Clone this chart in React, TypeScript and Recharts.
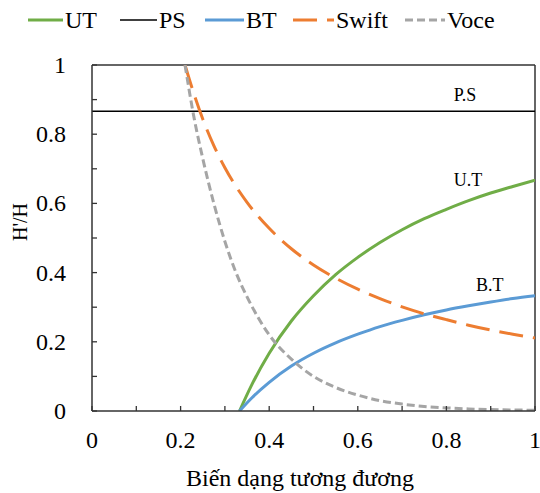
import { LineChart, Line, XAxis, YAxis, ReferenceLine, ReferenceDot } from "recharts";

const utX = [0.333, 0.36, 0.4, 0.45, 0.5, 0.55, 0.6, 0.65, 0.7, 0.75, 0.8, 0.85, 0.9, 0.95, 1.0];
const utY = [0, 0.074, 0.167, 0.26, 0.333, 0.394, 0.444, 0.487, 0.524, 0.556, 0.583, 0.608, 0.63, 0.649, 0.667];
const btY = [0, 0.037, 0.083, 0.13, 0.167, 0.197, 0.222, 0.244, 0.262, 0.278, 0.292, 0.304, 0.315, 0.325, 0.333];

const swiftX = [0.21, 0.23, 0.25, 0.275, 0.3, 0.35, 0.4, 0.45, 0.5, 0.55, 0.6, 0.65, 0.7, 0.75, 0.8, 0.85, 0.9, 0.95, 1.0];
const swiftY = [1.0, 0.917, 0.844, 0.767, 0.703, 0.603, 0.528, 0.469, 0.422, 0.384, 0.352, 0.325, 0.301, 0.281, 0.264, 0.248, 0.234, 0.222, 0.211];

const voceX = [0.21, 0.23, 0.25, 0.275, 0.3, 0.325, 0.35, 0.375, 0.4, 0.45, 0.5, 0.55, 0.6, 0.65, 0.7, 0.75, 0.8, 0.85, 0.9, 0.95, 1.0];
const voceY = [1.0, 0.85, 0.73, 0.6, 0.49, 0.4, 0.33, 0.27, 0.22, 0.15, 0.1, 0.068, 0.046, 0.03, 0.02, 0.013, 0.009, 0.006, 0.004, 0.003, 0.002];

const psX = [0, 1];
const psY = [0.866, 0.866];

const ticks = [0, 0.1, 0.2, 0.3, 0.4, 0.5, 0.6, 0.7, 0.8, 0.9, 1];
const majorTicks = [0, 0.2, 0.4, 0.6, 0.8, 1];

const notes = [
    { x: 0.842, y: 0.913, text: "P.S" },
    { x: 0.849, y: 0.668, text: "U.T" },
    { x: 0.898, y: 0.364, text: "B.T" },
];

const series = [
    { name: "UT", color: "#70AD47", dash: undefined as string | undefined, width: 3 },
    { name: "PS", color: "#000000", dash: undefined, width: 1.5 },
    { name: "BT", color: "#5B9BD5", dash: undefined, width: 3 },
    { name: "Swift", color: "#ED7D31", dash: "24 10", width: 3 },
    { name: "Voce", color: "#A5A5A5", dash: "8 4", width: 3 },
];

// legend layout: where each swatch starts and where its text starts
const legendLine = [28, 120, 205, 293, 405];
const legendText = [65, 159, 246, 336, 447];

const zip = (xs: number[], ys: number[]) => xs.map((x, i) => ({ x, y: ys[i] }));

const FONT = "Liberation Serif, Times New Roman, serif";
const LEFT = 92;
const BOTTOM = 411;
const TXT = "#000";
const FS = 24;

const isMajor = (v: number) => majorTicks.some((m) => Math.abs(m - v) < 1e-6);

function XTick(props: any) {
    const { x, payload } = props;
    return (
        <g>
            <line x1={x} x2={x} y1={BOTTOM} y2={BOTTOM - 5} stroke="#333" strokeWidth={1.3} />
            {isMajor(payload.value) && (
                <text x={x} y={BOTTOM + 29} textAnchor="middle" dominantBaseline="central" fontSize={FS} style={{ fontFamily: FONT }} fill={TXT}>
                    {String(payload.value)}
                </text>
            )}
        </g>
    );
}

function YTick(props: any) {
    const { y, payload } = props;
    return (
        <g>
            <line x1={LEFT} x2={LEFT + 5} y1={y} y2={y} stroke="#333" strokeWidth={1.3} />
            {isMajor(payload.value) && (
                <text x={66} y={y} textAnchor="end" dominantBaseline="central" fontSize={FS} style={{ fontFamily: FONT }} fill={TXT}>
                    {String(payload.value)}
                </text>
            )}
        </g>
    );
}

export default function App() {
    const datasets = [zip(utX, utY), zip(psX, psY), zip(utX, btY), zip(swiftX, swiftY), zip(voceX, voceY)];
    return (
        <div style={{ position: "absolute", left: 0, top: 0, width: 540, height: 493, fontFamily: FONT }}>
            {series.map((s, i) => (
                <div key={s.name}>
                    <svg width={legendText[i] - legendLine[i] - 2} height={10} style={{ position: "absolute", left: legendLine[i], top: 15 }}>
                        <line x1={0} x2={legendText[i] - legendLine[i] - 2} y1={5} y2={5} stroke={s.color} strokeWidth={s.width} strokeDasharray={s.dash} />
                    </svg>
                    <span style={{ position: "absolute", left: legendText[i], top: 4, fontSize: FS, color: TXT, lineHeight: "32px", fontFamily: FONT }}>
                        {s.name}
                    </span>
                </div>
            ))}
            <LineChart width={540} height={493} margin={{ top: 65, right: 5, bottom: 32, left: 32 }}>
                <XAxis
                    type="number"
                    dataKey="x"
                    domain={[0, 1]}
                    ticks={ticks}
                    height={50}
                    tick={<XTick />}
                    tickLine={false}
                    axisLine={{ stroke: "#333", strokeWidth: 1.5 }}
                    allowDataOverflow
                    label={{
                        content: () => (
                            <text x={300} y={478} textAnchor="middle" dominantBaseline="central" fontSize={FS} style={{ fontFamily: FONT }} fill={TXT}>
                                Biến dạng tương đương
                            </text>
                        ),
                    }}
                />
                <YAxis
                    type="number"
                    dataKey="y"
                    domain={[0, 1]}
                    ticks={ticks}
                    width={60}
                    tick={<YTick />}
                    tickLine={false}
                    axisLine={{ stroke: "#333", strokeWidth: 1.5 }}
                    allowDataOverflow
                    label={{
                        content: () => (
                            <text
                                x={20}
                                y={222}
                                transform="rotate(-90 20 222)"
                                textAnchor="middle"
                                dominantBaseline="central"
                                fontSize={20}
                                style={{ fontFamily: FONT }}
                                fill={TXT}
                            >
                                H'/H
                            </text>
                        ),
                    }}
                />
                <ReferenceLine y={1} stroke="#333" strokeWidth={1.5} ifOverflow="extendDomain" />
                <ReferenceLine x={1} stroke="#333" strokeWidth={1.5} ifOverflow="extendDomain" />
                {series.map((s, i) => (
                    <Line
                        key={s.name}
                        data={datasets[i]}
                        dataKey="y"
                        type="monotone"
                        stroke={s.color}
                        strokeWidth={s.width}
                        strokeDasharray={s.dash}
                        dot={false}
                        activeDot={false}
                        isAnimationActive={false}
                    />
                ))}
                {notes.map((n) => (
                    <ReferenceDot
                        key={n.text}
                        x={n.x}
                        y={n.y}
                        r={0}
                        stroke="none"
                        fill="none"
                        label={{ value: n.text, position: "center", fontSize: 18, fontFamily: FONT, fill: TXT }}
                    />
                ))}
            </LineChart>
        </div>
    );
}
